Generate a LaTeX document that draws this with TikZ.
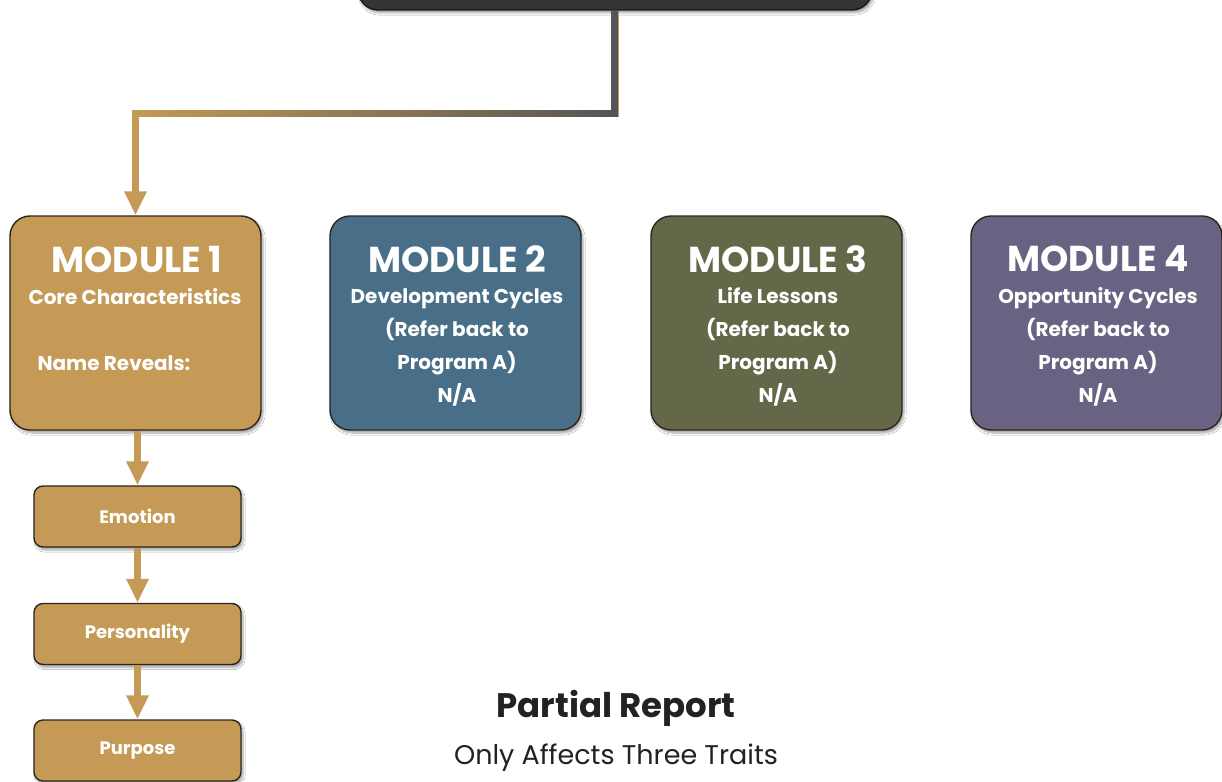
\documentclass[tikz,border=0pt]{standalone}
\usepackage{fontspec}
\setmainfont{Poppins}
\usetikzlibrary{arrows.meta,shadows.blur,fadings,calc}
\definecolor{gold}{RGB}{196,154,86}
\definecolor{modblue}{RGB}{72,111,135}
\definecolor{modolive}{RGB}{101,104,72}
\definecolor{modpurple}{RGB}{106,98,130}
\definecolor{edge}{RGB}{45,38,30}
\definecolor{topdark}{RGB}{52,52,52}
\definecolor{linegrey}{RGB}{85,85,85}
\definecolor{inkdark}{RGB}{34,34,34}
\tikzfading[name=greyfade, left color=transparent!100, right color=transparent!0]
\tikzset{
  shadowed/.style={blur shadow={shadow xshift=2pt, shadow yshift=-3pt, shadow blur steps=6, shadow opacity=35}},
  modbox/.style={draw=edge, line width=1.4pt, rounded corners=20pt, minimum width=251pt, minimum height=214pt, shadowed},
  smallbox/.style={draw=edge, line width=1.4pt, rounded corners=9pt, fill=gold, minimum width=207pt, minimum height=61pt, shadowed, text=white, font=\bfseries\fontsize{18}{20}\selectfont},
  modtitle/.style={text=white, font=\bfseries\fontsize{36}{40}\selectfont},
  modtext/.style={text=white, font=\bfseries\fontsize{20}{33}\selectfont, align=center},
  goldline/.style={draw=gold, line width=7pt},
  goldarrow/.style={goldline, -{Triangle[width=21pt,length=24pt]}},
}
\begin{document}
\begin{tikzpicture}[x=1pt,y=-1pt]
\useasboundingbox (0,0) rectangle (1222,781);
\clip (0,0) rectangle (1222,781);
\fill[white] (0,0) rectangle (1222,781);

% top box
\node[draw=black!90, line width=1.4pt, fill=topdark, rounded corners=20pt, minimum width=514pt, minimum height=100pt, shadowed] (top) at (615,-40) {};

% modules
\node[modbox, fill=gold] (m1) at (135.5,323) {};
\node[modbox, fill=modblue] (m2) at (455.5,323) {};
\node[modbox, fill=modolive] (m3) at (776.5,323) {};
\node[modbox, fill=modpurple] (m4) at (1096.5,323) {};

% connector from top box to module 1
\coordinate (mid) at ($(top.south)+(0,103)$);
\coordinate (corner) at (mid -| m1.north);
\draw[goldarrow] (top.south) -- (mid) -| (m1.north);
\path[draw=linegrey, line width=7pt, path fading=greyfade, fit fading=true] (corner) -- (mid) -- (top.south);

% module texts
\node[modtitle] (t1) at (137,259) {MODULE 1};
\node[modtext] (s1) at (135,297) {Core Characteristics};
\node[modtext, anchor=west] (r1) at (34,363) {Name Reveals:};

\node[modtitle] (t2) at (457,259) {MODULE 2};
\node[modtext] (s2) at (457,347) {Development Cycles\\(Refer back to\\Program A)\\N/A};

\node[modtitle] (t3) at (778,259) {MODULE 3};
\node[modtext] (s3) at (778,347) {Life Lessons\\(Refer back to\\Program A)\\N/A};

\node[modtitle] (t4) at (1098,259) {MODULE 4};
\node[modtext] (s4) at (1098,347) {Opportunity Cycles\\(Refer back to\\Program A)\\N/A};

% traits
\node[smallbox] (e) at (137.5,516.5) {Emotion};
\node[smallbox] (p) at (137.5,634) {Personality};
\node[smallbox] (u) at (137.5,750.5) {Purpose};

\draw[goldarrow] (m1.south -| e.north) -- (e.north);
\draw[goldarrow] (e.south) -- (p.north);
\draw[goldarrow] (p.south) -- (u.north);

% bottom text
\node[text=inkdark, font=\bfseries\fontsize{34}{38}\selectfont] (pr) at (616,708) {Partial Report};
\node[text=inkdark, font=\fontsize{27}{31}\selectfont] (oa) at (616,758) {Only Affects Three Traits};
\end{tikzpicture}
\end{document}
